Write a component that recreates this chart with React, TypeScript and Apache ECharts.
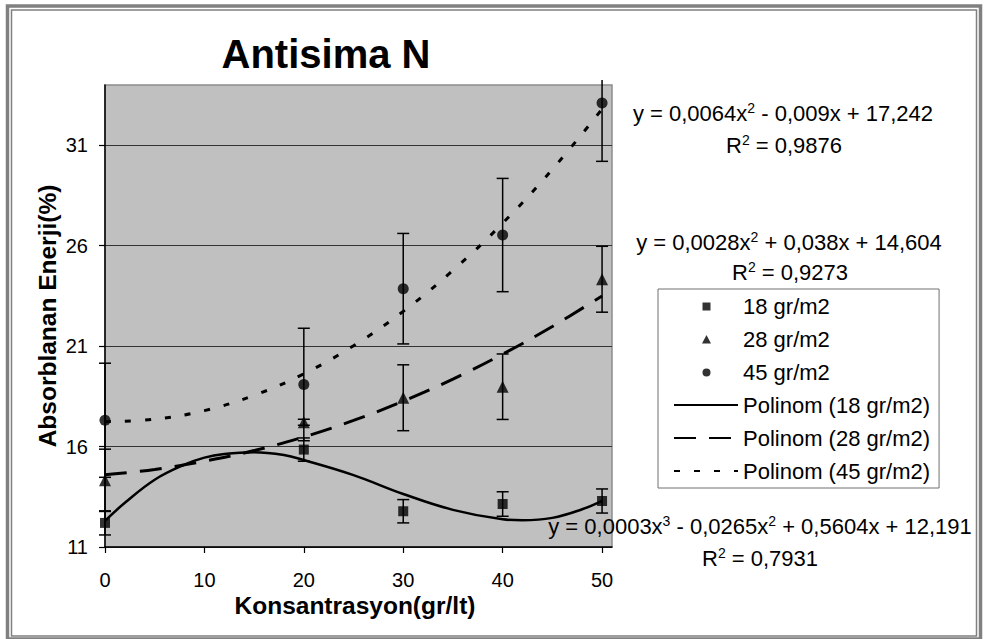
import React, { useEffect, useRef } from 'react';
import * as echarts from 'echarts';

// ---- data ----
const xValues = [0, 20, 30, 40, 50];
const values18 = [12.2, 15.85, 12.78, 13.14, 13.29];
const errors18 = [0.6, 0.58, 0.58, 0.61, 0.6];
const values28 = [14.32, 17.21, 18.43, 18.98, 24.33];
const errors28 = [1.55, 0.15, 1.64, 1.63, 1.64];
const values45 = [17.31, 19.09, 23.86, 26.53, 33.1];
const errors45 = [2.84, 2.8, 2.75, 2.82, 2.9];

// trend curves
const trendX18 = [0, 2, 5, 8, 10, 12, 15, 18, 20, 25, 30, 35, 40, 42, 45, 48, 50];
const trend18 = [12.3, 13.2, 14.35, 15.1, 15.45, 15.63, 15.72, 15.58, 15.33, 14.58, 13.64, 12.85, 12.38, 12.33, 12.45, 12.88, 13.3];
const trendX = [0, 5, 10, 15, 20, 25, 30, 35, 40, 45, 50];
const trend28 = [14.6, 14.86, 15.27, 15.8, 16.48, 17.3, 18.26, 19.36, 20.6, 21.98, 23.5];
const trend45 = [17.24, 17.36, 17.79, 18.55, 19.62, 21.02, 22.73, 24.77, 27.12, 29.8, 32.8];

const yTicks = [11, 16, 21, 26, 31];
const xTicks = [0, 10, 20, 30, 40, 50];

const seriesNames = ['18 gr/m2', '28 gr/m2', '45 gr/m2'];
const trendNames = ['Polinom (18 gr/m2)', 'Polinom (28 gr/m2)', 'Polinom (45 gr/m2)'];

const chartTitle = 'Antisima N';
const xTitle = 'Konsantrasyon(gr/lt)';
const yTitle = 'Absorblanan Enerji(%)';

const eq45 = ['y = 0,0064x', '2', ' - 0,009x + 17,242'];
const r45 = ['R', '2', ' = 0,9876'];
const eq28 = ['y = 0,0028x', '2', ' + 0,038x + 14,604'];
const r28 = ['R', '2', ' = 0,9273'];
const eq18 = ['y = 0,0003x', '3', ' - 0,0265x', '2', ' + 0,5604x + 12,191'];
const r18 = ['R', '2', ' = 0,7931'];

const FONT = '"Liberation Sans", Arial, Helvetica, sans-serif';

// legend icons drawn inside a 64x9 box so that they are not stretched
const ICON_SQUARE = 'path://M0,0L0,0M64,9L64,9M28.5,1L36.5,1L36.5,9L28.5,9Z';
const ICON_TRIANGLE = 'path://M0,0L0,0M64,9L64,9M32.5,0.5L37,9L28,9Z';
const ICON_CIRCLE = 'path://M0,0L0,0M64,9L64,9M28.5,5A4,4,0,1,1,36.5,5A4,4,0,1,1,28.5,5Z';

function richText(parts: string[]) {
  return parts.map((p, i) => (i % 2 === 0 ? `{t|${p}}` : `{s|${p}}`)).join('');
}

const rich = {
  t: { fontSize: 22, fontFamily: FONT, fill: '#000', color: '#000', lineHeight: 24, verticalAlign: 'middle' },
  s: { fontSize: 14, fontFamily: FONT, fill: '#000', color: '#000', lineHeight: 10, verticalAlign: 'top' },
};

function eqText(parts: string[], x: number, y: number) {
  return {
    type: 'text',
    x,
    y,
    silent: true,
    style: {
      text: richText(parts),
      rich,
      align: 'center',
      verticalAlign: 'middle',
      fill: '#000',
      fontSize: 22,
      fontFamily: FONT,
    },
  };
}

function errData(vals: number[], errs: number[]) {
  return xValues.map((x, i) => [x, vals[i] - errs[i], vals[i] + errs[i]]);
}

function renderErr(params: any, api: any) {
  const x = api.value(0);
  const lo = api.value(1);
  const hi = api.value(2);
  const pl = api.coord([x, lo]);
  const ph = api.coord([x, hi]);
  const cs = params.coordSys;
  const limit = cs.y - 5;
  const half = 6;
  let topY = ph[1];
  let topCap = true;
  if (topY < limit) {
    topY = limit;
    topCap = false;
  }
  const st = { stroke: '#000', lineWidth: 1.5 };
  const children: any[] = [
    { type: 'line', shape: { x1: pl[0], y1: pl[1], x2: pl[0], y2: topY }, style: st },
    { type: 'line', shape: { x1: pl[0] - half, y1: pl[1], x2: pl[0] + half, y2: pl[1] }, style: st },
  ];
  if (topCap) {
    children.push({ type: 'line', shape: { x1: ph[0] - half, y1: ph[1], x2: ph[0] + half, y2: ph[1] }, style: st });
  }
  return { type: 'group', children };
}

export default function App() {
  const ref = useRef<HTMLDivElement>(null);

  useEffect(() => {
    if (!ref.current) return;
    const chart = echarts.init(ref.current, null, { renderer: 'svg' });

    const transparent = { color: 'rgba(0,0,0,0)', borderColor: 'rgba(0,0,0,0)', borderWidth: 0 };

    const option: any = {
      animation: false,
      backgroundColor: '#fff',
      color: ['#000'],
      grid: {
        left: 105,
        top: 85,
        right: 372,
        bottom: 92,
        show: true,
        backgroundColor: '#C0C0C0',
        borderColor: '#8c8c8c',
        borderWidth: 1.5,
      },
      xAxis: {
        type: 'value',
        min: 0,
        max: 51,
        interval: 10,
        axisLine: { show: true, onZero: false, lineStyle: { color: '#000', width: 1.5 } },
        axisTick: { show: true, length: 6, customValues: xTicks, lineStyle: { color: '#000', width: 1.2 } },
        axisLabel: {
          customValues: xTicks,
          margin: 23,
          fontSize: 20,
          lineHeight: 20,
          fontFamily: FONT,
          color: '#000',
        },
        splitLine: { show: false },
      },
      yAxis: {
        type: 'value',
        min: 11,
        max: 34,
        interval: 5,
        axisLine: { show: true, onZero: false, lineStyle: { color: '#000', width: 1.5 } },
        axisTick: { show: true, length: 6, customValues: yTicks, lineStyle: { color: '#000', width: 1.2 } },
        axisLabel: {
          customValues: yTicks,
          margin: 17,
          fontSize: 20,
          lineHeight: 20,
          fontFamily: FONT,
          color: '#000',
        },
        splitLine: { show: true, lineStyle: { color: '#333', width: 1.2 } },
      },
      legend: {
        orient: 'vertical',
        left: 658,
        top: 289,
        padding: [6, 9, 6, 15],
        itemGap: 11,
        itemWidth: 64,
        itemHeight: 9,
        backgroundColor: '#fff',
        borderColor: '#707070',
        borderWidth: 1,
        selectedMode: false,
        textStyle: { fontSize: 22, lineHeight: 22, fontFamily: FONT, color: '#000' },
        data: [
          { name: seriesNames[0], icon: ICON_SQUARE },
          { name: seriesNames[1], icon: ICON_TRIANGLE },
          { name: seriesNames[2], icon: ICON_CIRCLE },
          { name: trendNames[0], itemStyle: transparent },
          { name: trendNames[1], itemStyle: transparent },
          { name: trendNames[2], itemStyle: transparent },
        ],
      },
      graphic: [
        {
          type: 'rect',
          silent: true,
          shape: { x: 7.5, y: 6, width: 973, height: 633 },
          style: { fill: 'none', stroke: '#808080', lineWidth: 3.5 },
        },
        {
          type: 'rect',
          silent: true,
          shape: { x: 11.5, y: 10, width: 965, height: 626 },
          style: { fill: 'none', stroke: '#808080', lineWidth: 1.5 },
        },
        {
          type: 'text',
          x: 326,
          y: 54,
          silent: true,
          style: {
            text: chartTitle,
            align: 'center',
            verticalAlign: 'middle',
            fontSize: 40,
            fontWeight: 'bold',
            fontFamily: FONT,
            fill: '#000',
          },
        },
        {
          type: 'text',
          x: 355,
          y: 605,
          silent: true,
          style: {
            text: xTitle,
            align: 'center',
            verticalAlign: 'middle',
            fontSize: 24.5,
            fontWeight: 'bold',
            fontFamily: FONT,
            fill: '#000',
          },
        },
        {
          type: 'text',
          x: 47,
          y: 316,
          rotation: Math.PI / 2,
          silent: true,
          style: {
            text: yTitle,
            align: 'center',
            verticalAlign: 'middle',
            fontSize: 24.5,
            fontWeight: 'bold',
            fontFamily: FONT,
            fill: '#000',
          },
        },
        eqText(eq45, 783, 113),
        eqText(r45, 784, 145),
        eqText(eq28, 789, 242),
        eqText(r28, 790, 272),
        eqText(eq18, 760, 526),
        eqText(r18, 760, 558),
      ],
      series: [
        {
          type: 'line',
          name: trendNames[0],
          data: trendX18.map((x, i) => [x, trend18[i]]),
          smooth: 0.4,
          symbol: 'none',
          showSymbol: false,
          silent: true,
          z: 2,
          lineStyle: { color: '#000', width: 2.5, type: 'solid' },
        },
        {
          type: 'line',
          name: trendNames[1],
          data: trendX.map((x, i) => [x, trend28[i]]),
          smooth: 0.4,
          symbol: 'none',
          showSymbol: false,
          silent: true,
          z: 2,
          lineStyle: { color: '#000', width: 3, type: [22, 13] },
        },
        {
          type: 'line',
          name: trendNames[2],
          data: trendX.map((x, i) => [x, trend45[i]]),
          smooth: 0.4,
          symbol: 'none',
          showSymbol: false,
          silent: true,
          z: 2,
          lineStyle: { color: '#000', width: 3, type: [6, 14] },
        },
        {
          type: 'custom',
          name: 'err18',
          data: errData(values18, errors18),
          encode: { x: 0, y: [1, 2] },
          renderItem: renderErr,
          silent: true,
          clip: false,
          z: 3,
        },
        {
          type: 'custom',
          name: 'err28',
          data: errData(values28, errors28),
          encode: { x: 0, y: [1, 2] },
          renderItem: renderErr,
          silent: true,
          clip: false,
          z: 3,
        },
        {
          type: 'custom',
          name: 'err45',
          data: errData(values45, errors45),
          encode: { x: 0, y: [1, 2] },
          renderItem: renderErr,
          silent: true,
          clip: false,
          z: 3,
        },
        {
          type: 'scatter',
          name: seriesNames[0],
          data: xValues.map((x, i) => [x, values18[i]]),
          symbol: 'rect',
          symbolSize: 10,
          itemStyle: { color: '#000' },
          z: 5,
        },
        {
          type: 'scatter',
          name: seriesNames[1],
          data: xValues.map((x, i) => [x, values28[i]]),
          symbol: 'triangle',
          symbolSize: 12,
          itemStyle: { color: '#000' },
          z: 5,
        },
        {
          type: 'scatter',
          name: seriesNames[2],
          data: xValues.map((x, i) => [x, values45[i]]),
          symbol: 'circle',
          symbolSize: 11,
          itemStyle: { color: '#000' },
          z: 5,
        },
      ],
    };

    chart.setOption(option);
    return () => {
      chart.dispose();
    };
  }, []);

  return (
    <div
      ref={ref}
      style={{ position: 'fixed', left: 0, top: 0, width: 984, height: 639 }}
    />
  );
}
